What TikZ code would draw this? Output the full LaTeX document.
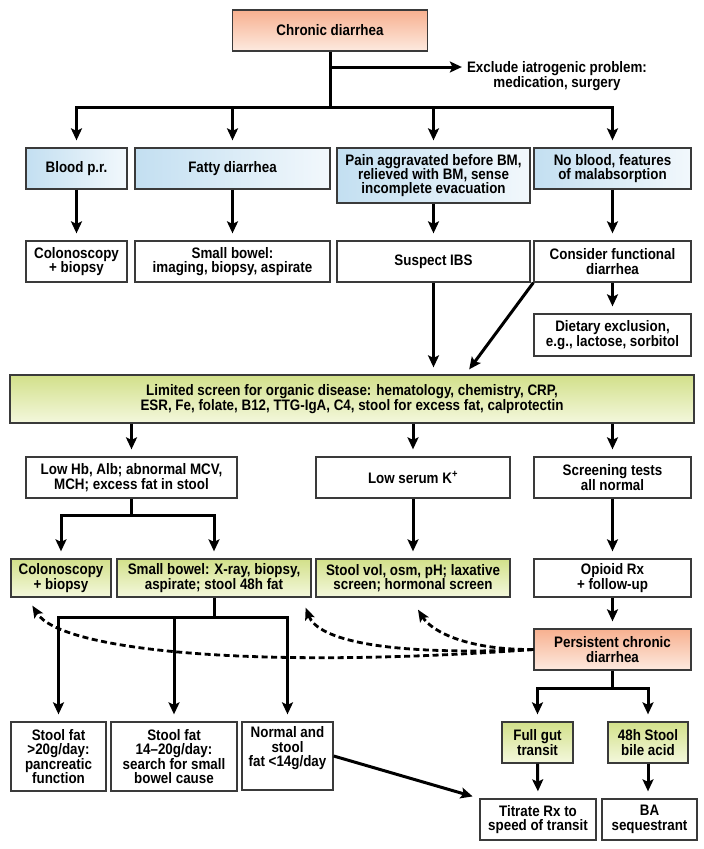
\documentclass[tikz,border=0pt]{standalone}
\usepackage{fontspec}
\setmainfont{Liberation Sans}[FakeStretch=0.88]
\usetikzlibrary{arrows.meta,calc}

\definecolor{boxline}{HTML}{3A3A3A}
\definecolor{peachtop}{HTML}{F7B08F}
\definecolor{peachbot}{HTML}{FDEAE0}
\definecolor{limetop}{HTML}{D2E08A}
\definecolor{limebot}{HTML}{F4F8DD}
\definecolor{skyleft}{HTML}{C3DFF1}
\definecolor{skyright}{HTML}{F2F8FC}

\tikzset{
	box/.style={draw=boxline, line width=1.3pt, fill=white, align=center, inner sep=2pt,
		font=\fontsize{15.2}{14.4}\selectfont\bfseries},
	peachbox/.style={box, top color=peachtop, bottom color=peachbot},
	limebox/.style={box, top color=limetop, bottom color=limebot},
	skybox/.style={box, left color=skyleft, right color=skyright},
	note/.style={align=center, inner sep=2pt, font=\fontsize{15.2}{14.4}\selectfont\bfseries},
	link/.style={line width=3pt},
	arr/.style={link, -{Stealth[length=12pt,width=11pt,inset=2.5pt]}, shorten >=7pt},
	dasharr/.style={line width=2.8pt, dash pattern=on 6pt off 3.5pt, -{Stealth[length=12pt,width=10pt,inset=2.5pt]}},
}

\begin{document}
\begin{tikzpicture}[x=1pt, y=-1pt]
			%%%%% START %%%%%
			\useasboundingbox (0,0) rectangle (704,849);
			
			\node[peachbox, minimum width=195pt, minimum height=41pt] (chronic) at (330,30.5) {Chronic diarrhea};
			\node[note] (iatro) at (557,76) {Exclude iatrogenic problem:\\medication, surgery};
			
			\node[skybox, minimum width=101pt, minimum height=41pt] (blood) at (76.5,168.5) {Blood p.r.};
			\node[skybox, minimum width=195pt, minimum height=41pt] (fatty) at (232.5,168.5) {Fatty diarrhea};
			\node[skybox, minimum width=193pt, minimum height=55pt] (pain) at (433.5,175.5) {Pain aggravated before BM,\\relieved with BM, sense\\incomplete evacuation};
			\node[skybox, minimum width=157pt, minimum height=41pt] (noblood) at (612.5,168.5) {No blood, features\\of malabsorption};
			
			\node[box, minimum width=101pt, minimum height=41pt] (colon1) at (76.5,261.5) {Colonoscopy\\+ biopsy};
			\node[box, minimum width=195pt, minimum height=41pt] (sbowel1) at (232.5,261.5) {Small bowel:\\imaging, biopsy, aspirate};
			\node[box, minimum width=193pt, minimum height=41pt] (ibs) at (433.5,261.5) {Suspect IBS};
			\node[box, minimum width=157pt, minimum height=41pt] (functional) at (612.5,261.5) {Consider functional\\diarrhea};
			\node[box, minimum width=157pt, minimum height=42pt] (dietary) at (612.5,335) {Dietary exclusion,\\e.g., lactose, sorbitol};
			
			\node[limebox, minimum width=684pt, minimum height=48pt] (limited) at (352,399) {Limited screen for organic disease: hematology, chemistry, CRP,\\ESR, Fe, folate, B12, TTG-IgA, C4, stool for excess fat, calprotectin};
			
			\node[box, minimum width=211pt, minimum height=41pt] (lowhb) at (131.5,477.5) {Low Hb, Alb; abnormal MCV,\\MCH; excess fat in stool};
			\node[box, minimum width=194pt, minimum height=41pt] (lowk) at (413,477.5) {Low serum K\textsuperscript{+}};
			\node[box, minimum width=157pt, minimum height=41pt] (normal) at (612.5,477.5) {Screening tests\\all normal};
			
			\node[limebox, minimum width=100pt, minimum height=38pt] (colon2) at (61,578) {Colonoscopy\\+ biopsy};
			\node[limebox, minimum width=194pt, minimum height=38pt] (sbowel2) at (214,578) {Small bowel: X-ray, biopsy,\\aspirate; stool 48h fat};
			\node[limebox, minimum width=194pt, minimum height=38pt] (stoolvol) at (413,578) {Stool vol, osm, pH; laxative\\screen; hormonal screen};
			\node[box, minimum width=157pt, minimum height=38pt] (opioid) at (612.5,578) {Opioid Rx\\+ follow-up};
			
			\node[peachbox, minimum width=157pt, minimum height=41pt] (persistent) at (612.5,649.5) {Persistent chronic\\diarrhea};
			
			\node[box, minimum width=95pt, minimum height=69pt] (fat20) at (58.5,756.5) {Stool fat\\>20g/day:\\pancreatic\\function};
			\node[box, minimum width=126pt, minimum height=69pt] (fat14) at (174,756.5) {Stool fat\\14–20g/day:\\search for small\\bowel cause};
			\node[box, minimum width=91pt, minimum height=68pt] (fatnormal) at (287.5,756) {Normal and\\stool\\fat <14g/day\\\strut};
			
			\node[limebox, minimum width=71pt, minimum height=41pt] (fullgut) at (537.5,742.5) {Full gut\\transit};
			\node[limebox, minimum width=80pt, minimum height=41pt] (bile) at (648,742.5) {48h Stool\\bile acid};
			\node[box, minimum width=116pt, minimum height=41pt] (titrate) at (538,819.5) {Titrate Rx to\\speed of transit};
			\node[box, minimum width=95pt, minimum height=41pt] (ba) at (649.5,819.5) {BA\\sequestrant};
			
			\coordinate (split0) at (330,67);
			\coordinate (split1) at (330,107);
			\coordinate (split2) at (131.5,515);
			\coordinate (split3) at (214,617);
			\coordinate (split4) at (612.5,688);
			\coordinate (diagin) at (465,375);
			
			% top fan
			\draw[link] (chronic.south) -- (split1);
			\draw[arr, shorten >=3pt] (split0) -- (split0 -| iatro.west);
			\draw[arr] (split1) -| (blood.north);
			\draw[arr] (split1) -| (fatty.north);
			\draw[arr] (split1) -| (pain.north);
			\draw[arr] (split1) -| (noblood.north);
			
			\draw[arr] (blood.south) -- (colon1.north);
			\draw[arr] (fatty.south) -- (sbowel1.north);
			\draw[arr] (pain.south) -- (ibs.north);
			\draw[arr] (noblood.south) -- (functional.north);
			\draw[arr] (functional.south) -- (dietary.north);
			
			\draw[arr] (ibs.south) -- (ibs.south |- limited.north);
			\draw[arr] (functional.south west) -- (diagin);
			
			% screen results
			\draw[arr] (limited.south -| lowhb.north) -- (lowhb.north);
			\draw[arr] (limited.south -| lowk.north) -- (lowk.north);
			\draw[arr] (limited.south -| normal.north) -- (normal.north);
			
			\draw[link] (lowhb.south) -- (split2);
			\draw[arr] (split2) -| (colon2.north);
			\draw[arr] (split2) -| (sbowel2.north);
			\draw[arr] (lowk.south) -- (stoolvol.north);
			\draw[arr] (normal.south) -- (opioid.north);
			\draw[arr] (opioid.south) -- (persistent.north);
			
			% stool fat
			\draw[link] (sbowel2.south) -- (split3);
			\draw[arr] (split3) -| (fat20.north);
			\draw[arr] (split3) -| (fat14.north);
			\draw[arr] (split3) -| (fatnormal.north);
			\draw[arr] (fatnormal.east) -- (titrate.north west);
			
			% persistent
			\draw[link] (persistent.south) -- (split4);
			\draw[arr] (split4) -| (fullgut.north);
			\draw[arr] (split4) -| (bile.north);
			\draw[arr] (fullgut.south) -- (titrate.north);
			\draw[arr] (bile.south) -- (bile.south |- ba.north);
			
			\draw[dasharr] (persistent.west) .. controls (250,670) and (60,650) .. ([xshift=22pt,yshift=-8pt]colon2.south west);
			\draw[dasharr] (persistent.west) .. controls (385,656) and (318,640) .. ([xshift=-6pt,yshift=-10pt]sbowel2.south east);
			\draw[dasharr] (persistent.west) .. controls (468,650) and (432,632) .. ([xshift=5pt,yshift=-12pt]stoolvol.south);
			
			%%%%% END %%%%%
\end{tikzpicture}
\end{document}
